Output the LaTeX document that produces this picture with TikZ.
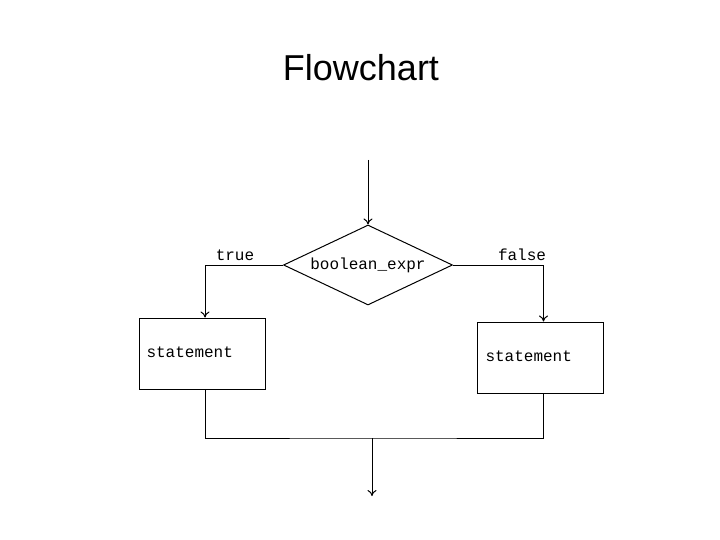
\documentclass[tikz,border=0pt]{standalone}
\usepackage{fontspec}
\setmainfont{Liberation Sans}
\newfontfamily\monof{Liberation Mono}
\usetikzlibrary{shapes.geometric,arrows.meta}
\begin{document}
\begin{tikzpicture}[x=1pt,y=-1pt,
  ln/.style={draw=black,line width=1pt},
  ar/.style={ln,-{To[length=6pt,width=9pt]}},
  box/.style={draw=black,line width=1pt,minimum width=126pt,minimum height=71pt,inner sep=0pt},
  mono/.style={font=\monof\fontsize{16}{18}\selectfont}]
\useasboundingbox (0,0) rectangle (720,540);
\node[font=\fontsize{36}{40}\selectfont] (title) at (361,68) {Flowchart};
\coordinate (top) at (368,160);
\node[diamond,draw,line width=1pt,minimum width=169pt,minimum height=80pt,inner sep=0pt,aspect=2.1,mono] (d) at (368,265) {boolean\_expr};
\node[box] (L) at (202,353.5) {};
\node[box] (R) at (540.5,357.5) {};
\node[mono,anchor=west] (lt) at (143,352) {statement};
\node[mono,anchor=west] (rt) at (482,356) {statement};
\node[mono] (tr) at (235,255) {true};
\node[mono] (fa) at (522,255) {false};
\coordinate (j) at (372,438);
\coordinate (e) at (372,496);
\draw[ar] (top) -- (d.north);
\draw[ar] (d.west) -| ([xshift=3pt]L.north);
\draw[ar] (d.east) -| ([xshift=3pt]R.north);
\draw[ln] ([xshift=3pt]L.south) |- (j) -| ([xshift=3pt]R.south);
\draw[ar] (j) -- (e);
\end{tikzpicture}
\end{document}
